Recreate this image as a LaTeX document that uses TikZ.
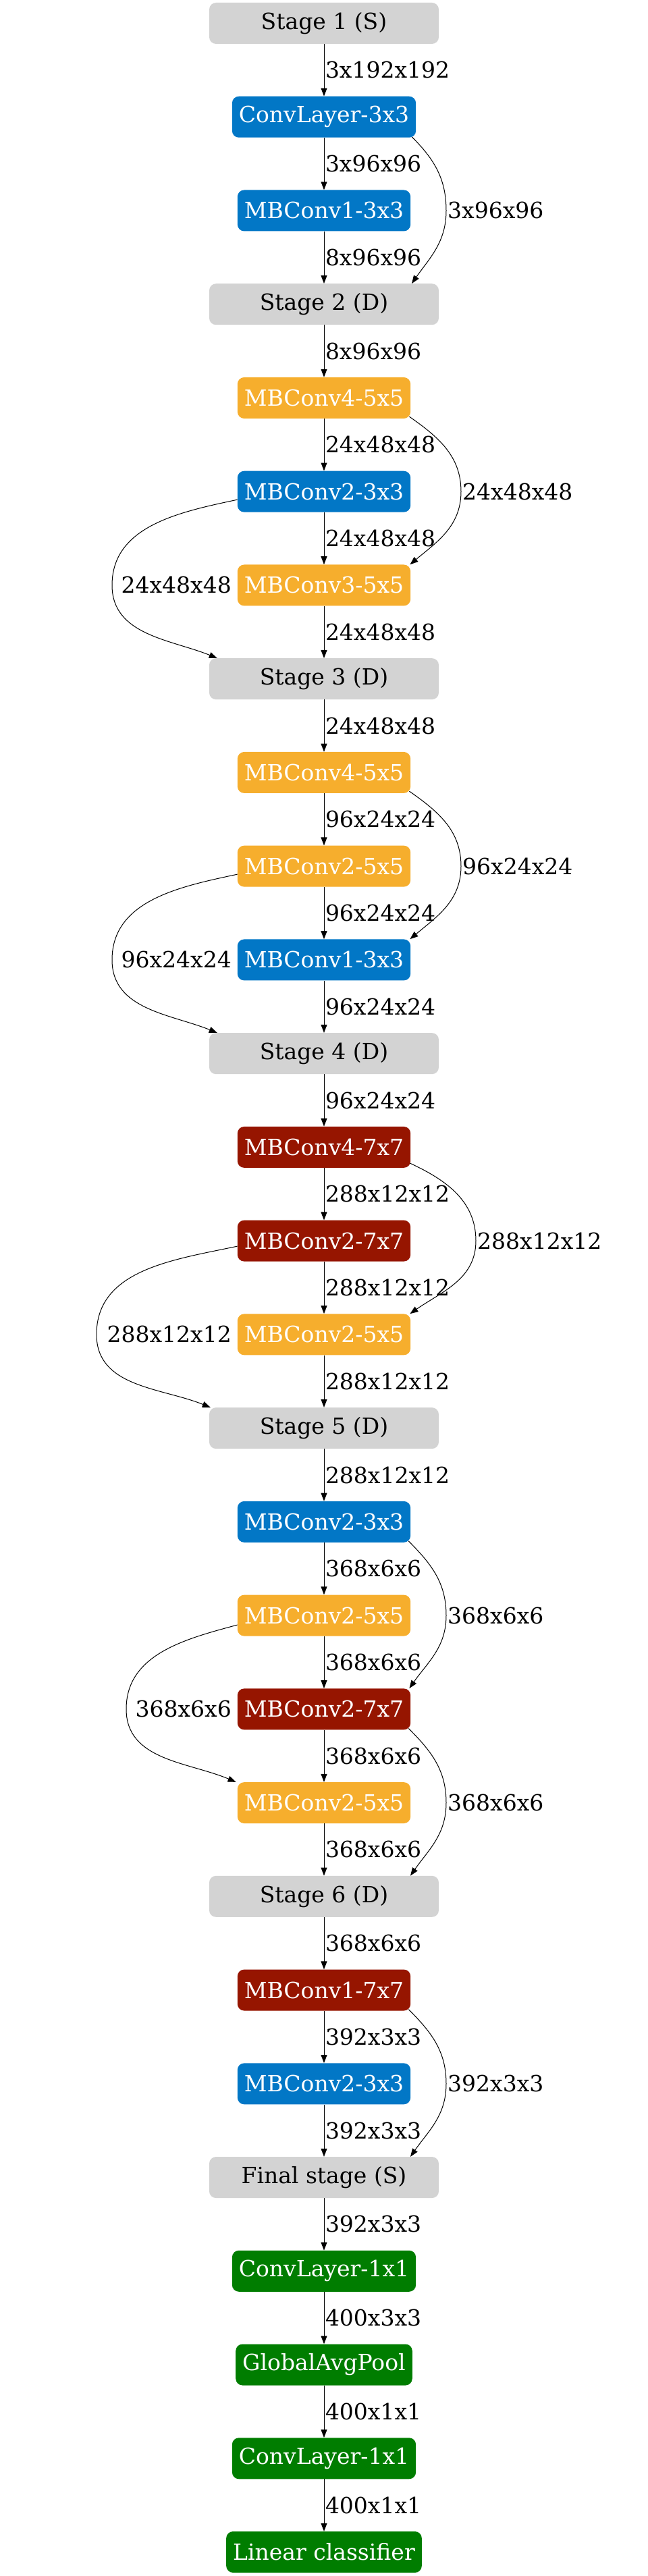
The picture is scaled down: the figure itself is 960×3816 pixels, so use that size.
\documentclass[tikz,border=0pt]{standalone}
\usepackage{fontspec}
\setmainfont{DejaVu Serif}
\usetikzlibrary{arrows.meta}
\definecolor{stagegray}{RGB}{211,211,211}
\definecolor{blk3}{RGB}{2,119,198}
\definecolor{blk5}{RGB}{246,174,45}
\definecolor{blk7}{RGB}{150,21,0}
\definecolor{blkhead}{RGB}{0,125,0}
\newcommand{\bigfont}{\fontsize{33}{38}\selectfont}
\tikzset{
  box/.style={rectangle, rounded corners=10pt, minimum height=61pt, inner xsep=10pt, inner ysep=0pt, font=\bigfont, text=white},
  stagebox/.style={box, fill=stagegray, text=black, minimum width=340pt},
  bluebox/.style={box, fill=blk3},
  orangebox/.style={box, fill=blk5},
  redbox/.style={box, fill=blk7},
  greenbox/.style={box, fill=blkhead},
  edge/.style={draw=black, line width=1pt, -{Triangle[length=12pt,width=9pt]}},
  skip/.style={draw=black, line width=1pt, -{Triangle[length=12pt,width=9pt]}},
  lbl/.style={font=\bigfont, inner sep=0pt, text=black},
}
\begin{document}
\begin{tikzpicture}[x=1pt,y=1pt]
\useasboundingbox (0,0) rectangle (960,-3816);
% nodes
\foreach \i/\n/\t/\s in {
  0/s1/{Stage 1 (S)}/stagebox,
  1/c1/{ConvLayer-3x3}/bluebox,
  2/m1/{MBConv1-3x3}/bluebox,
  3/s2/{Stage 2 (D)}/stagebox,
  4/m2/{MBConv4-5x5}/orangebox,
  5/m3/{MBConv2-3x3}/bluebox,
  6/m4/{MBConv3-5x5}/orangebox,
  7/s3/{Stage 3 (D)}/stagebox,
  8/m5/{MBConv4-5x5}/orangebox,
  9/m6/{MBConv2-5x5}/orangebox,
  10/m7/{MBConv1-3x3}/bluebox,
  11/s4/{Stage 4 (D)}/stagebox,
  12/m8/{MBConv4-7x7}/redbox,
  13/m9/{MBConv2-7x7}/redbox,
  14/m10/{MBConv2-5x5}/orangebox,
  15/s5/{Stage 5 (D)}/stagebox,
  16/m11/{MBConv2-3x3}/bluebox,
  17/m12/{MBConv2-5x5}/orangebox,
  18/m13/{MBConv2-7x7}/redbox,
  19/m14/{MBConv2-5x5}/orangebox,
  20/s6/{Stage 6 (D)}/stagebox,
  21/m15/{MBConv1-7x7}/redbox,
  22/m16/{MBConv2-3x3}/bluebox,
  23/s7/{Final stage (S)}/stagebox,
  24/f1/{ConvLayer-1x1}/greenbox,
  25/f2/{GlobalAvgPool}/greenbox,
  26/f3/{ConvLayer-1x1}/greenbox,
  27/f4/{Linear classifier}/greenbox}
  \node[\s] (\n) at (480,{-34.5-138.74*\i}) {\t};
% straight edges
\foreach \a/\b/\l in {
  s1/c1/3x192x192, c1/m1/3x96x96, m1/s2/8x96x96, s2/m2/8x96x96,
  m2/m3/24x48x48, m3/m4/24x48x48, m4/s3/24x48x48, s3/m5/24x48x48,
  m5/m6/96x24x24, m6/m7/96x24x24, m7/s4/96x24x24, s4/m8/96x24x24,
  m8/m9/288x12x12, m9/m10/288x12x12, m10/s5/288x12x12, s5/m11/288x12x12,
  m11/m12/368x6x6, m12/m13/368x6x6, m13/m14/368x6x6, m14/s6/368x6x6,
  s6/m15/368x6x6, m15/m16/392x3x3, m16/s7/392x3x3, s7/f1/392x3x3,
  f1/f2/400x3x3, f2/f3/400x1x1, f3/f4/400x1x1}
  \draw[edge] (\a.south) -- node[lbl, anchor=west, xshift=1.5pt] (l-\a) {\l} (\b.north);
% right skip connections
\draw[skip] ([xshift=-6pt,yshift=1pt]c1.south east) to[out=-45,in=90] ([xshift=181pt]m1.center) to[out=-90,in=55] ([xshift=130pt]s2.north);
\node[lbl, anchor=west] (r1) at ([xshift=183pt]m1.center) {3x96x96};
\draw[skip] ([xshift=-2pt,yshift=3pt]m2.south east) to[out=-35,in=90] ([xshift=203pt]m3.center) to[out=-90,in=40] ([xshift=-1pt]m4.north east);
\node[lbl, anchor=west] (r2) at ([xshift=205pt]m3.center) {24x48x48};
\draw[skip] ([xshift=-2pt,yshift=3pt]m5.south east) to[out=-35,in=90] ([xshift=203pt]m6.center) to[out=-90,in=40] ([xshift=-1pt]m7.north east);
\node[lbl, anchor=west] (r3) at ([xshift=205pt]m6.center) {96x24x24};
\draw[skip] ([xshift=-1pt,yshift=7pt]m8.south east) to[out=-25,in=90] ([xshift=225pt]m9.center) to[out=-90,in=35] ([xshift=-1pt]m10.north east);
\node[lbl, anchor=west] (r4) at ([xshift=227pt]m9.center) {288x12x12};
\draw[skip] ([xshift=-3pt,yshift=2pt]m11.south east) to[out=-45,in=90] ([xshift=181pt]m12.center) to[out=-90,in=55] ([xshift=-2pt]m13.north east);
\node[lbl, anchor=west] (r5) at ([xshift=183pt]m12.center) {368x6x6};
\draw[skip] ([xshift=-3pt,yshift=2pt]m13.south east) to[out=-45,in=90] ([xshift=181pt]m14.center) to[out=-90,in=55] ([xshift=128pt]s6.north);
\node[lbl, anchor=west] (r6) at ([xshift=183pt]m14.center) {368x6x6};
\draw[skip] ([xshift=-3pt,yshift=2pt]m15.south east) to[out=-45,in=90] ([xshift=181pt]m16.center) to[out=-90,in=55] ([xshift=128pt]s7.north);
\node[lbl, anchor=west] (r7) at ([xshift=183pt]m16.center) {392x3x3};
% left skip connections
\draw[skip] ([yshift=-12pt]m3.west) to[out=192,in=90] ([xshift=-314pt]m4.center) to[out=-90,in=158] ([xshift=12pt]s3.north west);
\node[lbl, anchor=east] (q1) at ([xshift=-137pt]m4.center) {24x48x48};
\draw[skip] ([yshift=-12pt]m6.west) to[out=192,in=90] ([xshift=-314pt]m7.center) to[out=-90,in=158] ([xshift=12pt]s4.north west);
\node[lbl, anchor=east] (q2) at ([xshift=-137pt]m7.center) {96x24x24};
\draw[skip] ([yshift=-8pt]m9.west) to[out=192,in=90] ([xshift=-337pt]m10.center) to[out=-90,in=158] ([xshift=2pt]s5.north west);
\node[lbl, anchor=east] (q3) at ([xshift=-137pt]m10.center) {288x12x12};
\draw[skip] ([yshift=-14pt]m12.west) to[out=195,in=90] ([xshift=-293pt]m13.center) to[out=-90,in=157] ([xshift=-2pt]m14.north west);
\node[lbl, anchor=east] (q4) at ([xshift=-137pt]m13.center) {368x6x6};
\end{tikzpicture}
\end{document}
